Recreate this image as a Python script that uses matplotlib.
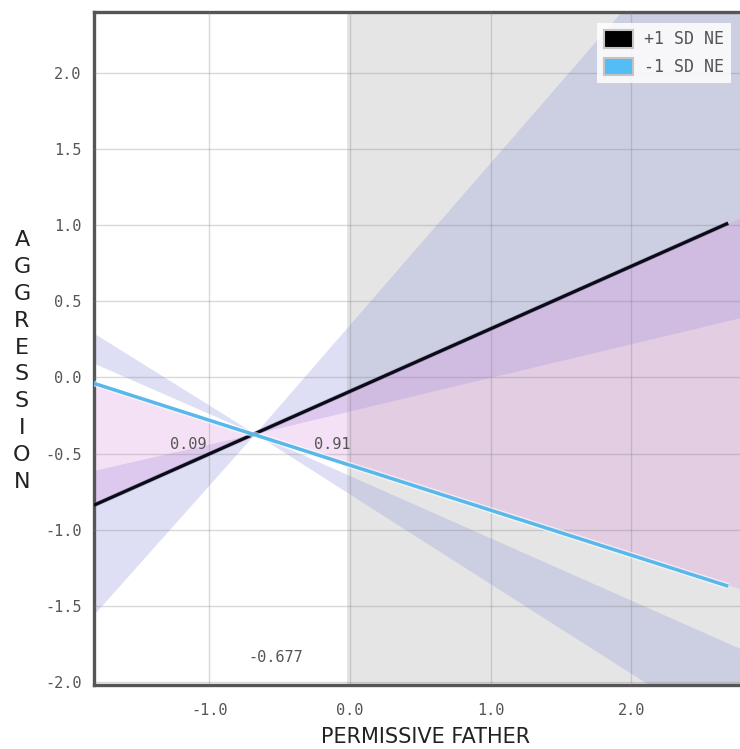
import matplotlib
matplotlib.use("Agg")
import matplotlib.pyplot as plt
import matplotlib.patheffects as pe
from matplotlib.patches import Patch

# simple slopes at +/- 1 SD of NE
line_x = [-1.82, 2.69]
hi_ne = [-0.839, 1.013]
lo_ne = [-0.039, -1.371]

# confidence regions (read at left edge, crossover point, right edge)
band_x = [-1.82, -0.676, 2.774]
hi_band_lo = [-1.555, -0.369, 0.392]
hi_band_hi = [-0.610, -0.369, 3.30]
lo_band_in = [0.093, -0.369, -1.78]
lo_band_out = [0.290, -0.369, -2.40]
hi_ext = [-0.839, -0.369, 1.048]
lo_ext = [-0.039, -0.369, -1.388]

sig_start = -0.02  # region of significance begins
annotations = [(-1.149, -0.44, "0.09"), (-0.126, -0.44, "0.91"), (-0.53, -1.84, "-0.677")]

xticks = [-1.0, 0.0, 1.0, 2.0]
yticks = [-2.0, -1.5, -1.0, -0.5, 0.0, 0.5, 1.0, 1.5, 2.0]
series_names = ["+1 SD NE", "-1 SD NE"]
series_colors = ["#000000", "#55bdf5"]

W, H = 740, 749
fig = plt.figure(figsize=(W / 100, H / 100), dpi=100)
ax = fig.add_axes([94 / W, (H - 685) / H, 646 / W, (685 - 12) / H])
ax.set_xlim(-1.82, 2.774)
ax.set_ylim(-2.02, 2.40)

ax.axvspan(sig_start, 3.0, color="#e5e5e5", lw=0, zorder=0)

lav = "#9ba0de"
ax.fill_between(band_x, hi_band_lo, hi_band_hi, color=lav, alpha=0.33, lw=0, zorder=1)
ax.fill_between(band_x, lo_band_in, lo_band_out, color=lav, alpha=0.33, lw=0, zorder=1)
ax.fill_between(band_x, hi_ext, lo_ext, color="#dc8cdc", alpha=0.26, lw=0, zorder=1)

ax.plot(line_x, hi_ne, color="#0a0a1a", lw=2.3, zorder=4, solid_capstyle="butt",
        path_effects=[pe.Stroke(linewidth=3.2, foreground="#555566", alpha=0.4), pe.Normal()])
ax.plot(line_x, lo_ne, color="#58b8ec", lw=2.5, zorder=4, solid_capstyle="butt",
        path_effects=[pe.Stroke(linewidth=4.5, foreground="white", alpha=0.6), pe.Normal()])

for x, y, s in annotations:
    ax.text(x, y, s, ha="center", va="center", fontsize=11, family="DejaVu Sans Mono",
            color="#555555", zorder=5)

ax.set_xticks(xticks)
ax.set_yticks(yticks)
ax.set_xticklabels([f"{v:.1f}" for v in xticks])
ax.set_yticklabels([f"{v:.1f}" for v in yticks])
for lab in ax.get_xticklabels() + ax.get_yticklabels():
    lab.set_family("DejaVu Sans Mono")
    lab.set_fontsize(11)
    lab.set_color("#555555")
ax.tick_params(axis="both", length=0)
ax.tick_params(axis="x", pad=13)
ax.tick_params(axis="y", pad=9)

ax.set_axisbelow(False)
ax.grid(True, color="#808080", alpha=0.3, lw=1.0, zorder=2)

for side in ["left", "bottom", "top"]:
    ax.spines[side].set_color("#555555")
    ax.spines[side].set_linewidth(2.4)
ax.spines["right"].set_visible(False)

# y label drawn letter by letter
for i, ch in enumerate("AGGRESSION"):
    fig.text(22 / W, 1 - (240 + i * 26.9) / H, ch, ha="center", va="center",
             fontsize=16, color="#222222")
fig.text(426 / W, 1 - 737 / H, "PERMISSIVE FATHER", ha="center", va="center",
         fontsize=15, color="#222222")

handles = [Patch(facecolor=c, edgecolor="#c4c4c4", lw=1.5, label=n)
           for c, n in zip(series_colors, series_names)]
leg = ax.legend(handles=handles, loc="upper left", bbox_to_anchor=(597 / W, 1 - 23 / H),
                bbox_transform=fig.transFigure, borderaxespad=0, borderpad=0.42,
                handlelength=1.75, handleheight=1.25, handletextpad=0.65, labelspacing=0.55,
                fancybox=False, framealpha=0.85, facecolor="white", edgecolor="none",
                prop={"family": "DejaVu Sans Mono", "size": 12})
for t in leg.get_texts():
    t.set_color("#555555")
leg.set_zorder(10)

fig.savefig("out.png", dpi=100)
